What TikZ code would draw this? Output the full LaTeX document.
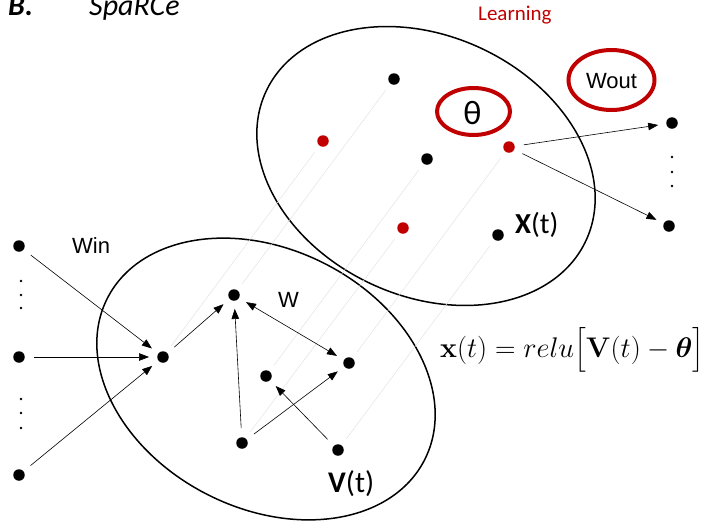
\RequirePackage{fix-cm}
\documentclass[tikz,border=0pt]{standalone}
\usepackage{amsmath}
\usepackage[no-math]{fontspec}
\setmainfont{Carlito}
\newfontfamily\arialf{Liberation Sans}
\usetikzlibrary{arrows.meta}
\definecolor{lred}{RGB}{192,0,0}
\tikzset{
  dot/.style={circle,fill=black,inner sep=0pt,minimum size=11.5pt},
  rdot/.style={circle,fill=lred,inner sep=0pt,minimum size=11.5pt},
  sdot/.style={circle,fill=black,inner sep=0pt,minimum size=2.6pt},
  arr/.style={line width=0.6pt,-{Triangle[length=10pt,width=7.5pt]},shorten >=8pt,shorten <=9pt},
  darr/.style={line width=0.6pt,{Triangle[length=10pt,width=7.5pt]}-{Triangle[length=10pt,width=7.5pt]},shorten >=8pt,shorten <=8pt},
  proj/.style={gray!22,line width=0.5pt,shorten >=8pt,shorten <=8pt},
  region/.style={line width=1.5pt},
  redring/.style={lred,line width=4pt},
  wlabel/.style={font=\arialf\fontsize{22}{24}\selectfont,inner sep=0pt},
  clabel/.style={inner sep=0pt}
}
\begin{document}
\begin{tikzpicture}[x=1pt,y=-1pt]
\useasboundingbox (0,0) rectangle (716,523);
% regions
\draw[region,rotate around={-27:(266,379)}] (266,379) ellipse [x radius=178, y radius=129.5];
\draw[region,rotate around={-25:(426,166)}] (426,166) ellipse [x radius=176.5, y radius=130];
% lower dots
\node[dot] (i1) at (19,246) {};
\node[dot] (i2) at (19,357) {};
\node[dot] (i3) at (19,475) {};
\node[dot] (c) at (163,357) {};
\node[dot] (a) at (234,295) {};
\node[dot] (b) at (349,363) {};
\node[dot] (d) at (266,376) {};
\node[dot] (e) at (242,443) {};
\node[dot] (f) at (338,450) {};
% upper dots
\node[dot] (ua) at (394,79) {};
\node[rdot] (uc) at (323,141) {};
\node[dot] (ud) at (427,159) {};
\node[rdot] (ub) at (509,147) {};
\node[rdot] (ue) at (403,228) {};
\node[dot] (uf) at (498,235) {};
% output dots
\node[dot] (o1) at (672,123) {};
\node[dot] (o2) at (669,226) {};
% small dots
\foreach \yy [count=\k] in {281,295,308,399,413,428} {\node[sdot] (s\k) at (21,\yy) {};}
\foreach \yy [count=\k] in {157,172,186} {\node[sdot] (r\k) at (672,\yy) {};}
% projection lines
\draw[proj] (a) -- (ua);
\draw[proj] (c) -- (uc);
\draw[proj] (d) -- (ud);
\draw[proj] (b) -- (ub);
\draw[proj] (e) -- (ue);
\draw[proj] (f) -- (uf);
% input arrows
\draw[arr] (i1) -- (c);
\draw[arr] (i2) -- (c);
\draw[arr] (i3) -- (c);
% recurrent arrows
\draw[arr] (c) -- (a);
\draw[arr] (e) -- (a);
\draw[darr] (a) -- (b);
\draw[arr] (e) -- (b);
\draw[arr] (f) -- (d);
% output arrows
\draw[arr] (ub) -- (o1);
\draw[arr] (ub) -- (o2);
% red rings
\draw[redring] (473.5,111.5) ellipse [x radius=36.5, y radius=23.5];
\draw[redring] (611.5,80) ellipse [x radius=43, y radius=30];
% labels
\node[clabel,font=\fontsize{34}{36}\selectfont] (th) at (472.5,113) {θ};
\node[wlabel] (wout) at (611.5,81) {Wout};
\node[wlabel,anchor=base west] (win) at (72,253) {Win};
\node[wlabel,anchor=base west] (wl) at (278,307) {W};
\node[clabel,anchor=base west,font=\fontsize{29}{32}\selectfont] (xt) at (515,233) {\textbf{X}(t)};
\node[clabel,anchor=base west,font=\fontsize{30}{32}\selectfont] (vt) at (328,492) {\textbf{V}(t)};
\node[clabel,anchor=base west,text=lred,font=\fontsize{21}{24}\selectfont] (learn) at (478,20) {Learning};
\node[clabel,anchor=base west,font=\fontsize{30}{33}\selectfont] (bl) at (8,15) {\textbf{\textit{B.}}};
\node[clabel,anchor=base west,font=\fontsize{30}{33}\selectfont] (sp) at (89,15) {\textit{SpaRCe}};
\node[clabel,anchor=base west,font=\fontsize{28.4}{32}\selectfont] (eq) at (440,357) {$\mathbf{x}(t) = relu\bigl[\mathbf{V}(t) - \boldsymbol{\theta}\bigr]$};
\end{tikzpicture}
\end{document}
